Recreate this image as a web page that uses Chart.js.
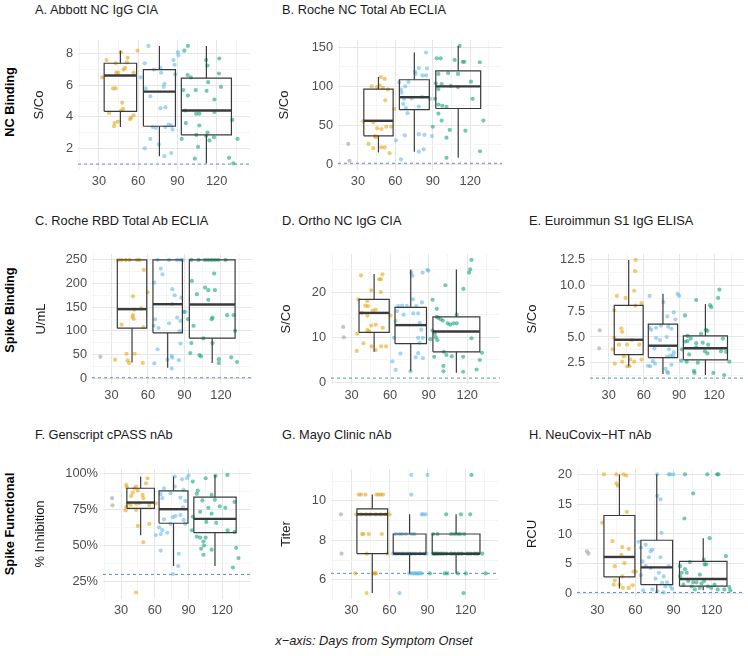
<!DOCTYPE html>
<html>
<head>
<meta charset="utf-8">
<script src="https://cdn.jsdelivr.net/npm/chart.js@4.4.1/dist/chart.umd.min.js"></script>
<style>
  body { margin: 0; background: #fff; width: 748px; height: 656px; position: relative; overflow: hidden;
         font-family: 'Liberation Sans', Arial, sans-serif; }
  .ttl { position: absolute; font-size: 12.8px; color: #1a1a1a; white-space: nowrap; line-height: 14px; }
  .row { position: absolute; font-size: 12.8px; font-weight: bold; color: #000; white-space: nowrap;
         transform: translate(-50%, -50%) rotate(-90deg); }
  .cap { position: absolute; font-size: 12.8px; font-style: italic; color: #1a1a1a; white-space: nowrap;
         transform: translateX(-50%); }
  canvas { position: absolute; }
</style>
</head>
<body>
<div class="row" style="left:9px;top:102px">NC Binding</div>
<div class="row" style="left:9px;top:310px">Spike Binding</div>
<div class="row" style="left:9px;top:524px">Spike Functional</div>
<div class="cap" style="left:374px;top:633px">x−axis: Days from Symptom Onset</div>

<script>
// x axis: days from symptom onset (same for every panel)
const xMajor = [30, 60, 90, 120];
const xMinor = [15, 45, 75, 105, 135];

// ---- A. Abbott NC IgG CIA ----
const aMajor = [2, 4, 6, 8];
const aMinor = [1, 3, 5, 7];
const aGrey = [];
const aOrange = [[35.8,7.6],[42.8,7.4],[52,7.75],[51.5,7.45],[48.8,7.0],[50,7.1],[43.3,6.8],[44.8,6.8],[56.5,6.8],[59.5,8.2],[32.5,6.5],[46.8,8.1],[40.8,5.8],[42.8,5.8],[47.8,4.9],[48.5,4.5],[37.8,4.25],[47,4.4],[54.5,3.95],[56.5,4.1],[42,3.6],[44.5,3.7],[53.8,3.85],[41.5,3.4]];
const aBlue = [[67.8,8.5],[65,7.4],[72,7.0],[77,7.1],[77.5,6.8],[87,7.6],[87.8,7.3],[90.8,7.9],[90.3,8.1],[88.3,6.7],[80,6.1],[79.5,5.9],[62,6.5],[65.8,5.8],[69.3,5.3],[77,4.55],[80.8,4.6],[71,3.35],[73.5,3.3],[80.8,3.35],[83.3,3.5],[85.3,3.45],[86.3,3.2],[69.3,2.6],[75.8,2.25],[65,2.0],[80,1.5],[85.3,1.7]];
const aGreen = [[98,8.5],[95.3,8.2],[112,7.6],[122,7.7],[113,7.25],[121.8,6.75],[97.8,6.65],[100.3,6.5],[113.5,6.2],[104,5.7],[112.3,5.65],[123.3,5.9],[98,5.35],[118.3,5.1],[94.5,5.7],[96,4.4],[104.3,4.2],[106.8,4.2],[118.3,4.3],[132,3.8],[96.5,3.6],[106.8,3.45],[113,3.0],[112,2.8],[118,2.7],[93.3,2.6],[136,2.6],[104.5,2.85],[105.8,2.1],[114.5,2.5],[103.3,1.35],[129.5,1.4],[132.8,1.05]];
const aBoxes = [[3.35,4.35,6.62,7.4,8.2],[1.5,3.4,5.6,7.0,8.5],[1.05,2.85,4.4,6.45,8.5]]; // lo, q1, median, q3, hi
const aBoxDays = [[34,58.8],[64,88.5],[93,131.3]];

// ---- B. Roche NC Total Ab ECLIA ----
const bMajor = [0, 50, 100, 150];
const bMinor = [25, 75, 125];
const bGrey = [[22.2,26],[23.2,4.3]];
const bOrange = [[48.3,112],[51.4,109.5],[41,100],[45.4,99],[47.5,101],[50.1,98],[54,96],[51.9,82],[59.2,71],[34,55],[42.3,53.5],[45.4,46],[48.8,45],[52.7,48],[56.6,48],[38.4,26],[42.3,20.5],[48.8,21.5],[51.4,21.5],[55.3,14],[43.6,36],[44.4,34.5]];
const bBlue = [[84.6,143.5],[78.8,123.5],[75.7,119],[76.2,116],[81.7,114],[84.6,114],[85.4,123],[63.2,105],[70.5,105.5],[67.9,100],[64.5,96],[65,92],[67,84],[73,84.5],[81.4,86.5],[87.9,84],[66.3,77.5],[68.4,72],[78.8,74],[69.7,65.5],[60.5,30.5],[67.6,37],[78.8,38.5],[83.3,37.5],[64.5,6],[78.8,16],[82.7,19],[89.3,36]];
const bGreen = [[111.5,152],[93.2,136],[96.3,136],[107.5,134],[114,131.5],[115.3,131.5],[127.7,131],[94.5,116],[102.3,117],[110.2,116],[120.6,106],[92.4,104],[97.1,103],[104.4,100.5],[110.2,99],[94.5,96.5],[91.8,84],[94.5,76.5],[97.6,75],[101,73.5],[121.9,84],[94.5,65],[90,48],[97.1,56],[103.6,44],[101,34],[116.2,43],[130.5,56],[101,8],[127.9,16.5]];
const bBoxes = [[15,36.4,55.7,96.4,112],[16,70,86,108.5,143.5],[8,71.5,100,120,152]];
const bBoxDays = [[34.7,58.2],[63.2,87.2],[92.4,128.4]];

// ---- C. Roche RBD Total Ab ECLIA ----
const cMajor = [0, 50, 100, 150, 200, 250];
const cMinor = [25, 75, 125, 175, 225];
const cGrey = [[20.9,45]];
const cOrange = [[35.6,250],[38.3,250],[41.8,250],[45,250],[51,250],[53,250],[56.6,229],[47.7,173],[59.8,181.5],[54.5,148],[48.8,145],[47.7,133.5],[48.3,125],[47.2,129],[38.3,113],[56.3,107.7],[33,39],[42.4,51.5],[43.2,37.4],[44.5,32],[49.1,51.5],[55.8,32]];
const cBlue = [[67.9,250],[77.3,250],[84,250],[86.7,250],[88.6,250],[70.6,231.7],[71.9,219.7],[65.2,202],[80,188],[81.9,175],[87.5,170],[80,156.7],[65.8,124.3],[84,128],[86.7,121],[64.7,110.5],[68.7,106],[77.3,116],[86.1,99.3],[90.8,140],[86.7,73],[67.9,61],[79.5,47],[80,43],[76,39],[85.4,38],[65.2,31],[79.5,20.5]];
const cGreen = [[95.6,250],[101.5,250],[106.9,250],[109.6,250],[112.3,250],[115,250],[117.6,250],[123.8,250],[114.4,221],[96.1,205.6],[106.9,191.5],[100.2,177.5],[109.6,186],[115,186],[109.6,165.5],[113.1,128],[112.3,124.6],[125.1,133],[130.5,133],[92.9,124.6],[97.5,110.5],[131.6,100],[105.5,84],[95.6,74],[113.1,74],[94.8,53],[102.3,48.6],[103.6,45.8],[118.2,40],[118.2,31.7],[128.4,44],[133.2,34],[89.4,140]];
const cBoxes = [[33,105.6,145.8,250,250],[21.8,95.8,156.3,250,250],[32,84.5,155.6,250,250]];
const cBoxDays = [[34.8,59],[64.1,88.3],[94,131.6]];

// ---- D. Ortho NC IgG CIA ----
const dMajor = [0, 10, 20];
const dMinor = [5, 15, 25];
const dGrey = [[23.5,12.3],[24,10]];
const dOrange = [[37.3,23.7],[51.5,22.8],[52.8,22.8],[54,23.9],[45.3,20.4],[52.8,20],[35.3,18.4],[42.3,18],[40.8,17],[42.8,16.9],[46.5,15.9],[48.8,16.1],[38,15.4],[42.3,14.8],[60.3,14.8],[45.3,12.6],[48.8,12.8],[54.3,12.1],[34.5,10.8],[42.3,11.6],[43.8,11.3],[39.3,8.7],[45.5,8],[53,8],[34,7],[48.8,7.2],[56.8,8]];
const dBlue = [[76.5,24.3],[77.3,23.6],[85.3,24.3],[89,24.9],[89.8,24.7],[66.3,16.9],[69.3,17],[73,16.9],[77.8,18.4],[84.8,17.7],[80.3,16.9],[65.5,15.8],[70.5,15],[78,15.3],[81.8,15.3],[64.3,13.6],[83,13.2],[84.3,11.7],[81.8,9.9],[85.5,9.9],[63,9.9],[83,8.8],[68,6.4],[61.8,4.7],[81.8,6.5],[80,5.6],[85.5,5.4],[64.3,2.8],[75.8,2.5]];
const dGreen = [[123.3,27.1],[122.3,25],[121.5,24.3],[117,20.7],[103,21.5],[93,18.3],[96.3,16.3],[96.3,14.5],[97.5,14.3],[99.3,14],[101,13.7],[104.8,13.1],[106.8,12.8],[109.3,13.1],[111.8,15],[111.8,13.1],[93,11.5],[94.8,10.8],[95.5,10],[91.3,9.6],[96.8,9.4],[94.3,5.7],[101.8,6.8],[103.8,6.1],[108,5.8],[116.8,5.7],[123.3,9.8],[131.5,6.6],[129.8,5],[127.3,2.9],[101.5,3.7],[101.5,2.5],[116.8,2.4]];
const dBoxes = [[6.8,11.1,15.4,18.4,24],[2.5,8.6,12.7,16.6,25],[2.2,6.8,11.3,14.5,25]];
const dBoxDays = [[35.8,59.3],[63.8,88.3],[93.3,129.8]];

// ---- E. Euroimmun S1 IgG ELISA ----
const eMajor = [2.5, 5, 7.5, 10, 12.5];
const eMinor = [1.25, 3.75, 6.25, 8.75, 11.25];
const eGrey = [[22.3,5.65],[21.8,3.9]];
const eOrange = [[53,12.5],[52.5,11.4],[36.9,9.0],[44.3,8.8],[51.7,9.5],[58,8.3],[52.8,8.05],[34.7,7.6],[40.7,5.85],[41.5,5.5],[34.7,4.9],[49.8,4.7],[38.8,4.25],[45.7,4.25],[56.1,4.25],[33.3,3.8],[42.9,3.1],[41.5,2.6],[48.4,2.8],[58,2.8],[35.2,2.4],[45.7,2.15],[47.8,2.15],[51.7,2.6]];
const eBlue = [[64.9,9.0],[88.8,9.2],[90.2,9.0],[76.7,8.4],[85.5,7.4],[64.9,5.9],[66.3,5.7],[70.4,5.9],[74.5,6.1],[80,7],[80.8,6.0],[83.6,5.8],[86.9,6.7],[70.4,4.9],[79.5,5.0],[73.7,4.7],[69,3.9],[81.4,3.8],[85.5,3.5],[82.7,3.2],[80,3.1],[85,3.2],[67.6,2.65],[69.6,2.4],[65.4,2.15],[63.5,2.2],[78.6,1.9],[80,1.6],[80.6,1.5],[83.6,2.3]];
const eGreen = [[124.5,9.6],[123.4,8.8],[104.7,8.6],[116.5,8.1],[117.6,7.9],[95.1,7.1],[113,5.7],[114.3,5.6],[97.3,5.1],[108.8,5.3],[100,4.85],[97.3,4.6],[95.1,4.55],[104.7,4.4],[110.2,4.45],[114.9,4.25],[127.5,4.85],[92.4,3.8],[104.7,4.0],[112.1,3.6],[114.3,3.4],[125.8,3.6],[130.3,3.55],[98.7,3.3],[96.5,2.6],[91.8,2.7],[106.1,2.5],[102.8,1.7],[103.2,1.5],[119.3,1.5],[128.6,1.3],[133,2.6]];
const eBoxes = [[2.15,3.28,4.73,8.07,12.5],[1.4,3.0,4.15,6.25,9.2],[1.3,2.78,3.9,5.1,8.2]];
const eBoxDays = [[34.7,59.4],[63.8,88.8],[93.7,131.4]];

// ---- F. Genscript cPASS nAb ----
const fMajor = [25, 50, 75, 100];
const fMinor = [37.5, 62.5, 87.5];
const fGrey = [[22.1,82.7],[22.4,77.8]];
const fOrange = [[34.7,91.9],[35.2,90.2],[42,89.6],[43.4,90.8],[44.9,88],[53.6,96.5],[52.2,93],[40.5,86.6],[39,84.3],[49.2,85],[49.8,82.7],[36.1,79.2],[38.5,78],[43.4,78.8],[46.3,79.2],[34.7,76.5],[43.4,74.6],[55.1,78],[60.9,79.2],[34.1,74.2],[44.9,63.5],[55.1,64.9],[49.8,52.3],[43.4,17.5]];
const fBlue = [[77.8,97.7],[90,98.4],[88.6,96.5],[84.2,95.8],[68.2,89.6],[77.8,90.8],[85.7,88.5],[65.3,85.5],[74,86.2],[82.8,83.1],[66.7,82.7],[87.1,80.8],[85.1,76.3],[78.4,70.4],[82.8,71.1],[76.1,69.6],[85.7,67.7],[68.2,68.1],[74,64.9],[87.1,64.9],[63.8,62.5],[66.7,60.6],[60.9,57.2],[65.3,57.9],[71.1,58.8],[65.3,46.5],[81.3,44.3],[80.8,35.8],[76.1,30.3]];
const fGreen = [[114,98.1],[124.5,98.8],[105.2,96.5],[93.8,94.2],[98.2,88],[97.3,85.7],[110.5,85],[113.4,81.6],[102.3,81.2],[117.8,77.1],[122.7,76.1],[130.9,80.1],[107.6,76.1],[100.3,73.3],[110.5,72],[93.8,69.8],[105.8,66.3],[114.6,65.6],[124.7,60.5],[130.9,59.4],[93,60.5],[97.3,56.2],[100.3,55.4],[105.2,55.4],[103.2,52.7],[103.8,50],[101.2,47.8],[103.2,43.6],[110.5,47.1],[132.3,48.4],[134.4,41.3],[129.4,34.8]];
const fBoxes = [[57,75.7,79.7,89.6,97.7],[35.8,65.4,75.1,87.8,97.7],[35.8,58.9,68.4,83.4,98.8]];
const fBoxDays = [[35.2,59.7],[63.8,89.5],[94.7,132.3]];

// ---- G. Mayo Clinic nAb (log2 titer) ----
const gMajor = [6, 8, 10];
const gMinor = [7, 9, 11];
const gGrey = [[21.8,9.32],[22.3,7.32]];
const gOrange = [[35.9,10.32],[37.7,10.32],[41.1,10.32],[49.8,10.32],[51.4,10.32],[53.2,10.32],[55,10.32],[33.9,9.32],[37.7,9.32],[41.6,9.32],[44.7,9.32],[49.3,9.32],[53.2,9.32],[57.1,9.32],[60.2,9.32],[38.5,8.32],[39.5,8.32],[43.7,8.32],[54,8.32],[42.1,7.32],[58.4,7.32],[33.1,6.32],[47.3,6.32],[48.8,6.32],[49.3,6.32],[42.1,5.32]];
const gBlue = [[77.2,11.32],[90,11.32],[77.2,10.32],[85.4,9.32],[86.7,9.32],[88.5,9.32],[64.8,8.32],[67.9,8.32],[70,8.32],[73,8.32],[77.7,8.32],[79.7,8.32],[62.8,7.32],[64.8,7.32],[66.9,7.32],[69.5,7.32],[71.3,7.32],[73.8,7.32],[75.6,7.32],[77.7,7.32],[80.3,7.32],[84.1,7.32],[87.5,7.32],[89.3,7.32],[75.6,6.32],[77.7,6.32],[79,6.32],[80.3,6.32],[81.6,6.32],[82.9,6.32],[84.1,6.32],[85.4,6.32],[67.9,5.32]];
const gGreen = [[124.6,11.32],[104.7,9.32],[116.3,9.32],[123.6,9.32],[94.4,8.32],[97.8,8.32],[108.6,8.32],[111.2,8.32],[113.8,8.32],[115.8,8.32],[118.9,8.32],[94.4,7.32],[95.6,7.32],[96.9,7.32],[98.2,7.32],[100.3,7.32],[102.1,7.32],[104.7,7.32],[108.6,7.32],[111.2,7.32],[114.3,7.32],[116.9,7.32],[121.6,7.32],[124.1,7.32],[127.2,7.32],[129.3,7.32],[133.1,7.32],[91.9,6.32],[103.5,6.32],[105.5,6.32],[113.8,6.32],[120.2,6.32],[135.7,6.32],[118.4,5.32]];
const gBoxes = [[5.32,7.32,9.32,9.6,10.32],[6.32,7.32,7.32,8.32,9.32],[6.32,7.32,7.32,8.32,9.32]];
const gBoxDays = [[34.4,58.6],[63,88.8],[93.7,131.3]];

// ---- H. NeuCovix-HT nAb ----
const hMajor = [0, 5, 10, 15, 20];
const hMinor = [2.5, 7.5, 12.5, 17.5];
const hGrey = [[21.8,7.1],[23,6.7]];
const hOrange = [[35.2,20],[45,20],[50.6,20],[52.7,19.8],[45,18.5],[46.2,18.1],[53.2,13.7],[33.9,11.9],[41.9,8.8],[49.6,7.8],[54.7,7.5],[49,6.5],[43.7,4.6],[51.4,5.1],[58.4,3.7],[60.4,3.7],[49.6,2.9],[43.7,2.2],[42.9,1.5],[47.5,1.5],[50.1,0.95],[54.7,0.95],[57.8,1.4]];
const hBlue = [[77.2,20],[86.2,20],[87.5,20],[90,20],[77.2,16.4],[79.7,15.8],[80.5,10.2],[62.5,8.7],[68.1,8.2],[64.3,7.7],[73.3,7.4],[72,7.1],[70.7,6.1],[79.7,6.1],[65.6,5.4],[68.1,4.6],[72,4.3],[78.5,3.5],[86.2,4.6],[82.3,2.9],[84.9,1.9],[64.3,3.1],[75.9,2.5],[81,1.8],[83.6,1.2],[87.5,1.3],[88.8,0.8],[66.1,0.55],[77.2,0.4],[73.3,0.7],[82.3,0.2]];
const hGreen = [[99,20],[116.6,20],[124.3,20],[125.4,20],[105.5,16.8],[98.6,12.6],[118.4,9.3],[131.3,6.3],[95.2,4.6],[99,4.1],[102.9,5.3],[113.9,5.7],[114.4,4.9],[115.8,4.9],[96.5,3.5],[100.4,3.5],[110.7,3.2],[95.2,2.9],[101.6,2.1],[105.5,1.9],[108.1,1.9],[112,1.7],[114.1,2.1],[117.1,1.2],[97.8,1.5],[104.2,1.2],[106.8,0.7],[110.7,0.95],[119.7,0.95],[124.8,0.7],[130,0.7],[133.9,1.1],[134.7,0.55],[122.3,1.5]];
const hBoxes = [[0.85,2.8,6.15,13.1,20],[0.1,1.5,4.4,8.95,20],[0.55,1.25,2.45,5.4,9.3]];
const hBoxDays = [[35.2,59.6],[64.3,89.3],[94.7,132.1]];

// colours
const GREY = 'rgba(160,160,160,0.6)';
const ORANGE = 'rgba(230,159,0,0.55)';
const BLUE = 'rgba(86,180,233,0.55)';
const GREEN = 'rgba(0,158,115,0.55)';
const BOX = '#3a3a3a';
const CUT = '#5b8fc7';

Chart.defaults.font.family = "'Liberation Sans', Arial, sans-serif";
Chart.defaults.font.size = 12.8;

const panels = [
  { title: 'A. Abbott NC IgG CIA', ytitle: 'S/Co', major: aMajor, minor: aMinor, ymin: 0.625, ymax: 8.875, cut: 1,
    pts: [aGrey, aOrange, aBlue, aGreen], boxes: aBoxes, days: aBoxDays, fmt: v => String(v) },
  { title: 'B. Roche NC Total Ab ECLIA', ytitle: 'S/Co', major: bMajor, minor: bMinor, ymin: -7.6, ymax: 159.6, cut: 1,
    pts: [bGrey, bOrange, bBlue, bGreen], boxes: bBoxes, days: bBoxDays, fmt: v => String(v) },
  { title: 'C. Roche RBD Total Ab ECLIA', ytitle: 'U/mL', major: cMajor, minor: cMinor, ymin: -12.5, ymax: 262.5, cut: 0.8,
    pts: [cGrey, cOrange, cBlue, cGreen], boxes: cBoxes, days: cBoxDays, fmt: v => String(v) },
  { title: 'D. Ortho NC IgG CIA', ytitle: 'S/Co', major: dMajor, minor: dMinor, ymin: -0.3, ymax: 28.4, cut: 1,
    pts: [dGrey, dOrange, dBlue, dGreen], boxes: dBoxes, days: dBoxDays, fmt: v => String(v) },
  { title: 'E. Euroimmun S1 IgG ELISA', ytitle: 'S/Co', major: eMajor, minor: eMinor, ymin: 0.425, ymax: 13.075, cut: 1,
    pts: [eGrey, eOrange, eBlue, eGreen], boxes: eBoxes, days: eBoxDays, fmt: v => v.toFixed(1) },
  { title: 'F. Genscript cPASS nAb', ytitle: '% Inhibition', major: fMajor, minor: fMinor, ymin: 13, ymax: 102.9, cut: 30,
    pts: [fGrey, fOrange, fBlue, fGreen], boxes: fBoxes, days: fBoxDays, fmt: v => v + '%' },
  { title: 'G. Mayo Clinic nAb', ytitle: 'Titer', major: gMajor, minor: gMinor, ymin: 5.02, ymax: 11.62, cut: 6.32,
    pts: [gGrey, gOrange, gBlue, gGreen], boxes: gBoxes, days: gBoxDays, fmt: v => String(v) },
  { title: 'H. NeuCovix−HT nAb', ytitle: 'RCU', major: hMajor, minor: hMinor, ymin: -0.9, ymax: 20.9, cut: 0.2,
    pts: [hGrey, hOrange, hBlue, hGreen], boxes: hBoxes, days: hBoxDays, fmt: v => String(v) }
];

// where each panel sits on the page: plot area edges, y title centre, panel title position
const places = [
  { l: 78,  r: 252, t: 40,  b: 170, yt: 40,  tx: 35,  ty: 3 },
  { l: 338, r: 504, t: 40,  b: 170, yt: 285, tx: 282, ty: 3 },
  { l: 92,  r: 254, t: 254, b: 384, yt: 42,  tx: 35,  ty: 214 },
  { l: 331, r: 502, t: 254, b: 384, yt: 287, tx: 282, ty: 214 },
  { l: 590, r: 746, t: 254, b: 384, yt: 533, tx: 529, ty: 214 },
  { l: 103, r: 253, t: 469, b: 599, yt: 41,  tx: 35,  ty: 428 },
  { l: 331, r: 500, t: 469, b: 599, yt: 287, tx: 282, ty: 428 },
  { l: 577, r: 746, t: 469, b: 599, yt: 533, tx: 529, ty: 428 }
];

function line(data, width, dash) {
  return { data: data, showLine: true, borderColor: dash ? CUT : BOX, borderWidth: width,
           borderDash: dash || [], pointRadius: 0, fill: false };
}

function dots(list, colour) {
  return { data: list.map(p => ({ x: p[0], y: p[1] })), backgroundColor: colour,
           borderWidth: 0, pointRadius: 2.1, showLine: false };
}

function drawPanel(p, pos) {
  const title = document.createElement('div');
  title.className = 'ttl';
  title.style.left = pos.tx + 'px';
  title.style.top = pos.ty + 'px';
  title.textContent = p.title;
  document.body.appendChild(title);

  const padTop = 14, xh = 24;
  const left = Math.round(pos.yt - 8);
  const top = pos.t - padTop;
  const w = pos.r - left + 2;
  const h = pos.b - top + xh;
  const cv = document.createElement('canvas');
  cv.width = w; cv.height = h;
  cv.style.left = left + 'px';
  cv.style.top = top + 'px';
  document.body.appendChild(cv);

  const xmin = 14, xmax = 145.5;
  const sets = [];
  // boxes first so they are drawn on top of the points
  p.boxes.forEach((b, i) => {
    const [lo, q1, med, q3, hi] = b;
    const [x0, x1] = p.days[i];
    const xc = (x0 + x1) / 2;
    sets.push(line([{x:x0,y:q1},{x:x1,y:q1},{x:x1,y:q3},{x:x0,y:q3},{x:x0,y:q1}], 1.2));
    sets.push(line([{x:x0,y:med},{x:x1,y:med}], 2.4));
    if (hi > q3) sets.push(line([{x:xc,y:q3},{x:xc,y:hi}], 1.2));
    if (lo < q1) sets.push(line([{x:xc,y:lo},{x:xc,y:q1}], 1.2));
  });
  sets.push(dots(p.pts[3], GREEN));
  sets.push(dots(p.pts[2], BLUE));
  sets.push(dots(p.pts[1], ORANGE));
  sets.push(dots(p.pts[0], GREY));
  sets.push(line([{x:xmin,y:p.cut},{x:xmax,y:p.cut}], 1, [3, 3]));

  const isMajorX = v => xMajor.includes(v);
  const isMajorY = v => p.major.includes(v);

  new Chart(cv, {
    type: 'scatter',
    data: { datasets: sets },
    options: {
      responsive: false,
      animation: false,
      events: [],
      layout: { padding: { top: padTop, right: 2, left: 0, bottom: 0 } },
      plugins: { legend: { display: false }, tooltip: { enabled: false } },
      scales: {
        x: {
          type: 'linear', min: xmin, max: xmax,
          afterBuildTicks: s => { s.ticks = xMinor.concat(xMajor).sort((a, b) => a - b).map(v => ({ value: v })); },
          afterFit: s => { s.height = xh; },
          ticks: { autoSkip: false, maxRotation: 0, padding: 4, color: '#4d4d4d',
                   callback: v => isMajorX(v) ? String(v) : '' },
          grid: { drawTicks: false, color: c => isMajorX(c.tick.value) ? '#e6e6e6' : '#f2f2f2',
                  lineWidth: c => isMajorX(c.tick.value) ? 1 : 0.8 },
          border: { display: false }
        },
        y: {
          type: 'linear', min: p.ymin, max: p.ymax,
          afterBuildTicks: s => { s.ticks = p.minor.concat(p.major).sort((a, b) => a - b).map(v => ({ value: v })); },
          afterFit: s => { s.width = pos.l - left; },
          ticks: { autoSkip: false, padding: 5, color: '#4d4d4d',
                   callback: v => isMajorY(v) ? p.fmt(v) : '' },
          grid: { drawTicks: false, color: c => isMajorY(c.tick.value) ? '#e6e6e6' : '#f2f2f2',
                  lineWidth: c => isMajorY(c.tick.value) ? 1 : 0.8 },
          border: { display: false },
          title: { display: true, text: p.ytitle, color: '#1a1a1a', font: { size: 13 }, padding: 0 }
        }
      }
    }
  });
}

panels.forEach((p, i) => drawPanel(p, places[i]));
</script>
</body>
</html>
